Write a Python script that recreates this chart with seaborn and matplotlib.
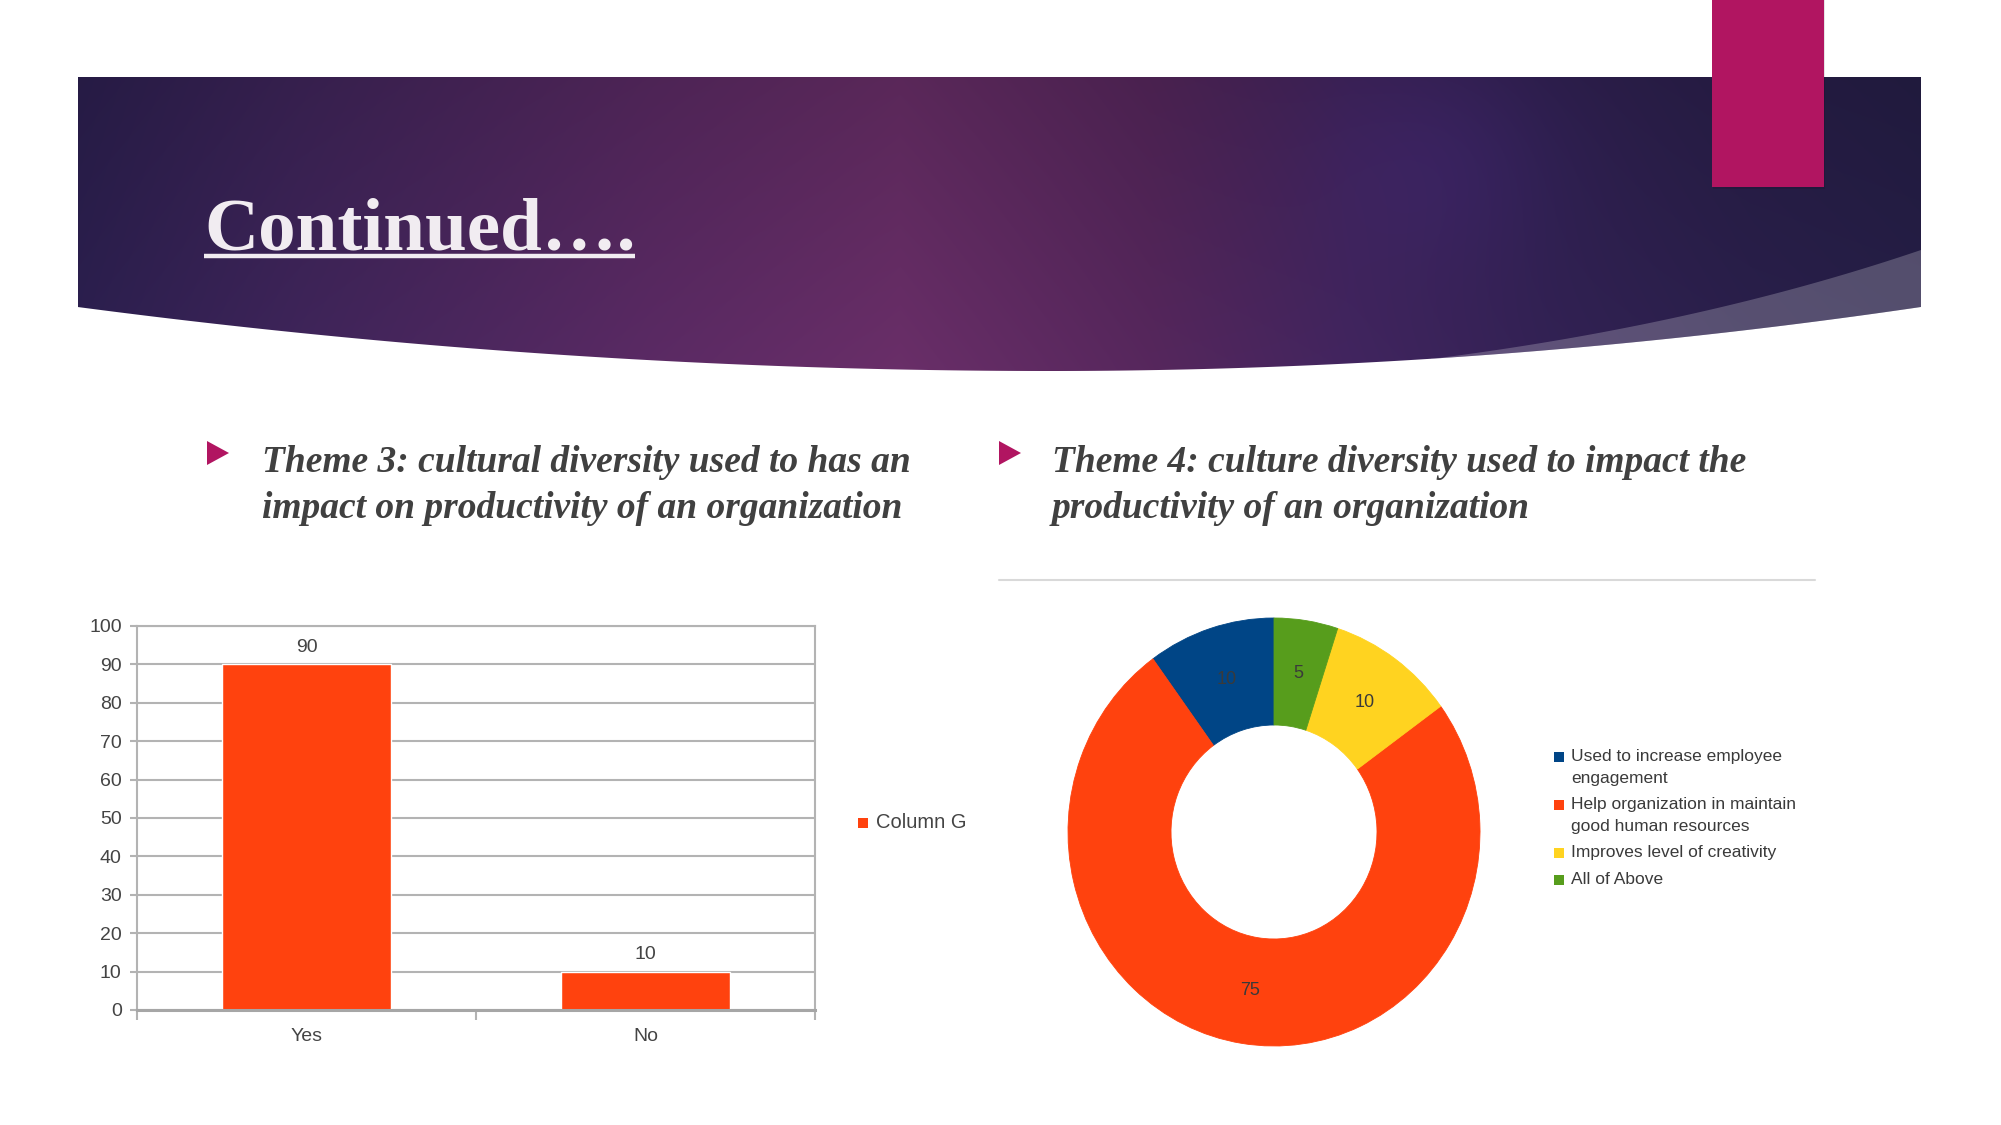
import numpy as np
import matplotlib
matplotlib.use('Agg')
import matplotlib.pyplot as plt
import seaborn as sns
from matplotlib.patches import Polygon, Rectangle, PathPatch
from matplotlib.path import Path

# data
bar_cats = ['Yes', 'No']
bar_vals = [90, 10]
bar_series = 'Column G'
y_ticks = list(range(0, 101, 10))

donut_labels = ['Used to increase employee\nengagement',
                'Help organization in maintain\ngood human resources',
                'Improves level of creativity',
                'All of Above']
donut_vals = [10, 75, 10, 5]
donut_colors = ['#004586', '#ff420e', '#ffd320', '#579d1c']

title = 'Continued\u2026.'
theme3 = ['Theme 3: cultural diversity used to has an',
          'impact on productivity of an organization']
theme4 = ['Theme 4: culture diversity used to impact the',
          'productivity of an organization']

sns.set_style('white')
plt.rcParams['font.family'] = ['Liberation Sans', 'DejaVu Sans']

W, H = 2001, 1125
fig = plt.figure(figsize=(W / 100, H / 100), dpi=100)
fig.patch.set_facecolor('white')


def fx(px):
    return px / W


def fy(py):
    return 1 - py / H


# page layer in pixel coordinates
bg = fig.add_axes([0, 0, 1, 1])
bg.set_xlim(0, W)
bg.set_ylim(H, 0)
bg.axis('off')

# banner shape
x0, x1, top = 78, 1921, 77


def banner_bottom(x):
    x = np.asarray(x, dtype=float)
    k = np.where(x < 1050, 6.77e-5, 8.44e-5)
    return 371 - k * (x - 1050) ** 2


bx = np.linspace(x1, x0, 300)
verts = [(x0, top), (x1, top)] + list(zip(bx, banner_bottom(bx))) + [(x0, top)]
banner = PathPatch(Path(verts, closed=True), facecolor='none', edgecolor='none')
bg.add_patch(banner)

# gradient fill for the banner
gx = np.arange(x0, x1)
gy = np.arange(top, 380)
stops_x = [78, 300, 650, 900, 1150, 1350, 1550, 1750, 1921]
stops_c = np.array([(42, 30, 76), (60, 35, 86), (86, 40, 95), (100, 44, 99),
                    (82, 37, 88), (62, 35, 90), (48, 32, 80), (40, 30, 72), (36, 29, 68)])
row = np.stack([np.interp(gx, stops_x, stops_c[:, i]) for i in range(3)], axis=-1)
img = np.repeat(row[None, :, :], len(gy), axis=0)
vy = ((gy - top) / (380 - top))[:, None, None]
img = img * (0.9 + 0.16 * vy)
XX, YY = np.meshgrid(gx, gy)
glow = np.exp(-(((XX - 1440) / 120) ** 2 + ((YY - 160) / 110) ** 2))[..., None]
img = img + glow * np.array([5, 3, 14])
img = np.clip(img / 255, 0, 1)
im = bg.imshow(img, extent=(x0, x1, 380, top), origin='upper', aspect='auto', zorder=1)
im.set_clip_path(banner)

# lighter swoosh, bottom right
t = np.linspace(0, 1, 80)
p0, pc, p2 = np.array([1431, 359]), np.array([1700, 325]), np.array([1921, 250])
curve = ((1 - t) ** 2)[:, None] * p0 + (2 * (1 - t) * t)[:, None] * pc + (t ** 2)[:, None] * p2
sx = np.linspace(1921, 1431, 80)
sw_verts = list(map(tuple, curve)) + list(zip(sx, banner_bottom(sx)))
bg.add_patch(Polygon(sw_verts, closed=True, facecolor='white', alpha=0.22,
                     edgecolor='none', zorder=2))

# magenta tab with a faint shadow
bg.add_patch(Rectangle((1713, 0), 112, 189, facecolor='#000000', alpha=0.10,
                       edgecolor='none', zorder=3))
bg.add_patch(Rectangle((1712, 0), 112, 187, facecolor='#b11561', edgecolor='none', zorder=4))

# title with underline
tt = bg.text(204, 249, title, family='Liberation Serif', weight='bold', fontsize=54,
             color='#f1ecf1', va='baseline', ha='left', zorder=5)
fig.canvas.draw()
bb = tt.get_window_extent().transformed(bg.transData.inverted())
bg.plot([bb.x0, bb.x1], [256, 256], color='#f1ecf1', lw=3.2, solid_capstyle='butt', zorder=5)

# theme headings with bullets
for tri_x, bx0, lines in [(207, 262, theme3), (999, 1052, theme4)]:
    bg.add_patch(Polygon([(tri_x, 441), (tri_x + 22, 453), (tri_x, 465)],
                         closed=True, facecolor='#b11561', edgecolor='none', zorder=5))
    for i, line in enumerate(lines):
        bg.text(bx0, 472 + 46 * i, line, family='Liberation Serif', weight='bold',
                style='italic', fontsize=27, color='#404040', va='baseline', ha='left')

bg.plot([999, 1815], [580, 580], color='#d9d9d9', lw=1.5)

# bar chart
txt = '#444444'
grid = '#b3b3b3'
ax1 = fig.add_axes([fx(137), fy(1010), (815 - 137) / W, (1010 - 626) / H])
sns.barplot(x=bar_cats, y=bar_vals, color='#ff420e', saturation=1, width=0.5, ax=ax1)
ax1.set_xlim(-0.5, 1.5)
ax1.set_ylim(0, 100)
ax1.set_yticks(y_ticks)
ax1.yaxis.grid(True, color=grid, lw=1.5)
ax1.set_axisbelow(True)
for s in ax1.spines.values():
    s.set_visible(True)
    s.set_color(grid)
    s.set_linewidth(1.5)
ax1.spines['bottom'].set_color('#a6a6a6')
ax1.spines['bottom'].set_linewidth(2.2)
ax1.set_xticks([-0.5, 0.5, 1.5], minor=True)
ax1.tick_params(axis='x', which='major', length=0, pad=13, labelsize=14, labelcolor=txt)
ax1.tick_params(axis='x', which='minor', length=7, width=1.5, color=grid, direction='out', bottom=True)
ax1.tick_params(axis='y', length=5, width=1.5, color=grid, pad=6, labelsize=14,
                labelcolor=txt, left=True)
ax1.set_xlabel('')
ax1.set_ylabel('')
ax1.bar_label(ax1.containers[0], padding=6, fontsize=14, color=txt)

# bar legend
bg.add_patch(Rectangle((858, 818), 10, 10, facecolor='#ff420e', edgecolor='none'))
bg.text(876, 823, bar_series, fontsize=14.5, color=txt, va='center', ha='left')

# donut
ax2 = fig.add_axes([fx(1068), fy(1046), (1480 - 1068) / W, (1046 - 618) / H])
total = sum(donut_vals)
ax2.pie(donut_vals, colors=donut_colors, startangle=90, counterclock=True, radius=1,
        wedgeprops=dict(width=0.5, linewidth=0.6, edgecolor='none'),
        autopct=lambda p: f'{p * total / 100:.0f}', pctdistance=0.75,
        textprops=dict(color='#3a3a3a', fontsize=13))
for w, c in zip(ax2.patches, donut_colors):
    w.set_edgecolor(c)
ax2.set_aspect('auto')
ax2.set_xlim(-1, 1)
ax2.set_ylim(-1, 1)
ax2.axis('off')

# donut legend
y_top = 746.5
line_h = 21
for lab, c in zip(donut_labels, donut_colors):
    parts = lab.split('\n')
    bg.add_patch(Rectangle((1554, y_top + 5.5), 10, 10, facecolor=c, edgecolor='none'))
    for j, p in enumerate(parts):
        bg.text(1571, y_top + 10.5 + j * line_h, p, fontsize=12.5, color='#3a3a3a',
                va='center', ha='left')
    y_top += len(parts) * line_h + 6

fig.savefig('out.png', dpi=100)
